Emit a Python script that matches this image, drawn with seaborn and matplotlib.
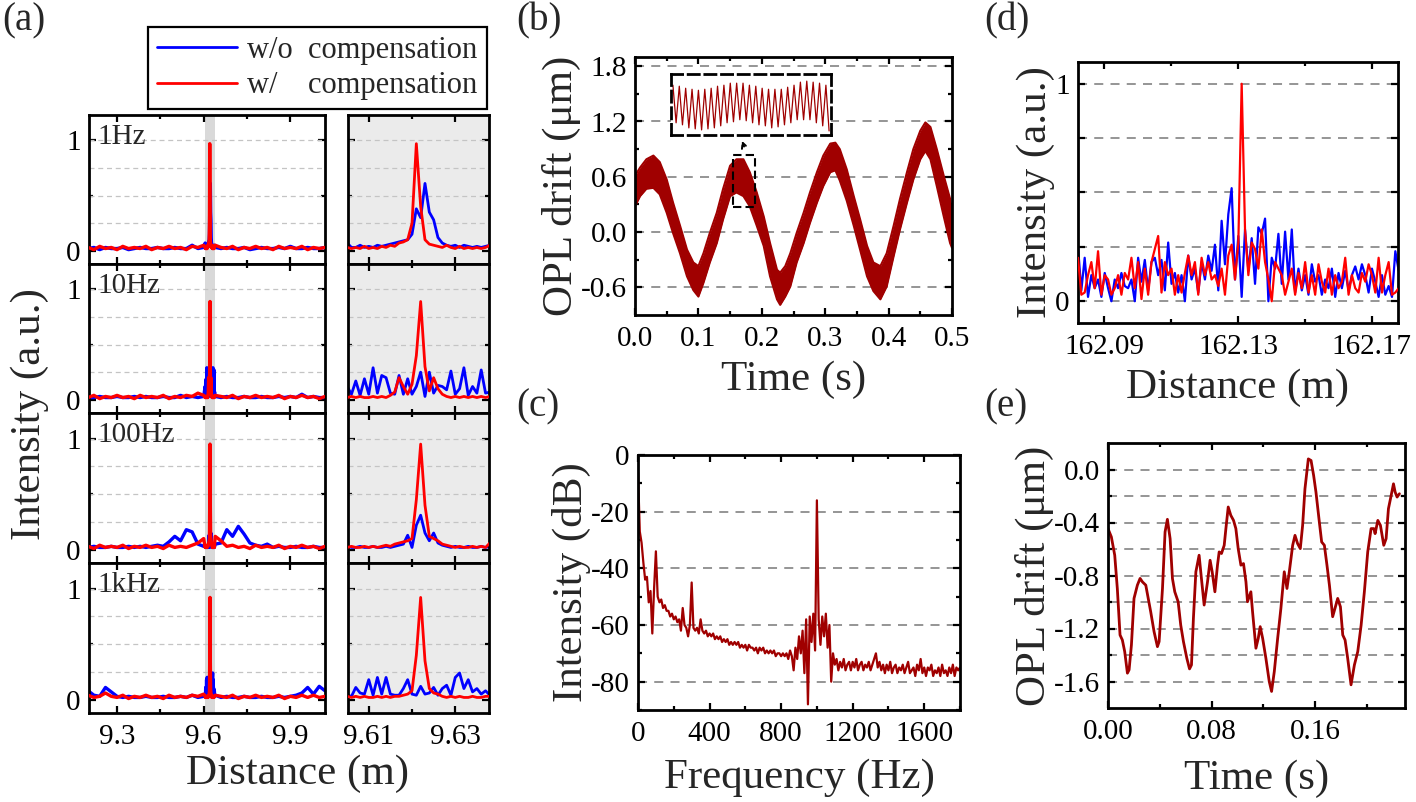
import numpy as np
import matplotlib
matplotlib.use("Agg")
import matplotlib.pyplot as plt
import seaborn as sns
from matplotlib.patches import Rectangle
from matplotlib.lines import Line2D
from matplotlib.ticker import MultipleLocator, FixedLocator, FixedFormatter

sns.set_style("ticks")
plt.rcParams['font.family'] = ['Liberation Serif', 'DejaVu Serif']
plt.rcParams['axes.unicode_minus'] = False

# =============================================================================
# data
# =============================================================================
# (a) reflectometry traces, wide view = coarse left + zoom window + coarse right
a_labels = ['1Hz', '10Hz', '100Hz', '1kHz']
a_x_lo = np.linspace(9.20, 9.60, 21)
a_x_zoom = np.linspace(9.605, 9.638, 34)
a_x_hi = np.linspace(9.64, 10.02, 20)
a_window = (9.6052, 9.6378)

a_red_lo = {
    '1Hz':   [0.03, 0.01, 0.04, 0.02, 0.03, 0.01, 0.04, 0.02, 0.03, 0.02, 0.04, 0.01, 0.03, 0.02, 0.04, 0.02, 0.03, 0.01, 0.04, 0.03, 0.05],
    '10Hz':  [0.02, 0.04, 0.01, 0.03, 0.02, 0.04, 0.02, 0.03, 0.01, 0.04, 0.02, 0.03, 0.02, 0.04, 0.01, 0.03, 0.02, 0.04, 0.03, 0.06, 0.04],
    '100Hz': [0.03, 0.01, 0.04, 0.02, 0.03, 0.02, 0.04, 0.01, 0.03, 0.02, 0.04, 0.02, 0.03, 0.01, 0.04, 0.02, 0.03, 0.02, 0.04, 0.06, 0.10],
    '1kHz':  [0.04, 0.02, 0.03, 0.06, 0.03, 0.02, 0.04, 0.01, 0.03, 0.02, 0.04, 0.02, 0.03, 0.01, 0.04, 0.02, 0.03, 0.02, 0.04, 0.03, 0.05],
}
a_blue_lo = {
    '1Hz':   [0.02, 0.03, 0.01, 0.03, 0.02, 0.02, 0.03, 0.01, 0.02, 0.03, 0.02, 0.02, 0.03, 0.02, 0.02, 0.03, 0.02, 0.02, 0.05, 0.02, 0.03],
    '10Hz':  [0.02, 0.02, 0.03, 0.02, 0.02, 0.03, 0.02, 0.02, 0.03, 0.02, 0.03, 0.02, 0.02, 0.03, 0.02, 0.02, 0.04, 0.02, 0.03, 0.02, 0.03],
    '100Hz': [0.02, 0.03, 0.02, 0.02, 0.03, 0.02, 0.02, 0.03, 0.02, 0.03, 0.02, 0.03, 0.04, 0.03, 0.07, 0.12, 0.08, 0.18, 0.16, 0.05, 0.03],
    '1kHz':  [0.08, 0.04, 0.03, 0.11, 0.07, 0.03, 0.02, 0.03, 0.02, 0.02, 0.03, 0.02, 0.02, 0.03, 0.02, 0.02, 0.03, 0.02, 0.04, 0.02, 0.03],
}
a_red_zoom = {
    '1Hz':   [0.03, 0.02, 0.03, 0.02, 0.04, 0.02, 0.03, 0.02, 0.04, 0.03, 0.05, 0.04, 0.07, 0.08, 0.10, 0.25, 0.97, 0.40, 0.10, 0.06,
              0.05, 0.04, 0.03, 0.05, 0.03, 0.02, 0.04, 0.02, 0.03, 0.02, 0.03, 0.02, 0.03, 0.05],
    '10Hz':  [0.02, 0.03, 0.02, 0.03, 0.02, 0.02, 0.03, 0.02, 0.03, 0.02, 0.04, 0.07, 0.20, 0.12, 0.05, 0.14, 0.40, 0.89, 0.30, 0.08,
              0.20, 0.10, 0.05, 0.03, 0.02, 0.03, 0.02, 0.03, 0.02, 0.03, 0.02, 0.03, 0.02, 0.03],
    '100Hz': [0.02, 0.03, 0.02, 0.02, 0.03, 0.02, 0.03, 0.02, 0.03, 0.04, 0.03, 0.05, 0.06, 0.07, 0.08, 0.10, 0.45, 0.95, 0.40, 0.12,
              0.10, 0.08, 0.05, 0.04, 0.03, 0.02, 0.03, 0.02, 0.02, 0.03, 0.02, 0.03, 0.02, 0.06],
    '1kHz':  [0.03, 0.02, 0.03, 0.02, 0.03, 0.02, 0.02, 0.03, 0.02, 0.03, 0.02, 0.03, 0.03, 0.04, 0.05, 0.08, 0.40, 0.92, 0.35, 0.10,
              0.06, 0.05, 0.03, 0.02, 0.03, 0.02, 0.03, 0.02, 0.02, 0.03, 0.02, 0.02, 0.03, 0.03],
}
a_blue_zoom = {
    '1Hz':   [0.07, 0.03, 0.03, 0.05, 0.03, 0.04, 0.03, 0.05, 0.04, 0.05, 0.06, 0.07, 0.08, 0.09, 0.10, 0.15, 0.38, 0.30, 0.61, 0.35,
              0.28, 0.12, 0.07, 0.05, 0.04, 0.05, 0.03, 0.05, 0.04, 0.03, 0.04, 0.03, 0.04, 0.05],
    '10Hz':  [0.12, 0.05, 0.17, 0.04, 0.19, 0.05, 0.29, 0.06, 0.22, 0.20, 0.06, 0.05, 0.22, 0.05, 0.19, 0.05, 0.12, 0.25, 0.03, 0.25,
              0.06, 0.13, 0.12, 0.09, 0.26, 0.05, 0.10, 0.29, 0.04, 0.12, 0.06, 0.27, 0.06, 0.07],
    '100Hz': [0.03, 0.02, 0.02, 0.03, 0.02, 0.02, 0.03, 0.02, 0.02, 0.03, 0.02, 0.03, 0.04, 0.05, 0.13, 0.02, 0.22, 0.31, 0.15, 0.08,
              0.15, 0.06, 0.04, 0.03, 0.02, 0.03, 0.02, 0.02, 0.03, 0.02, 0.02, 0.03, 0.02, 0.03],
    '1kHz':  [0.04, 0.03, 0.11, 0.06, 0.05, 0.18, 0.04, 0.20, 0.05, 0.20, 0.05, 0.04, 0.04, 0.10, 0.18, 0.05, 0.04, 0.12, 0.05, 0.06,
              0.11, 0.04, 0.10, 0.13, 0.04, 0.20, 0.24, 0.10, 0.18, 0.07, 0.10, 0.05, 0.08, 0.04],
}
a_red_hi = {
    '1Hz':   [0.05, 0.03, 0.02, 0.04, 0.01, 0.03, 0.02, 0.04, 0.02, 0.03, 0.01, 0.04, 0.02, 0.03, 0.02, 0.04, 0.01, 0.03, 0.02, 0.03],
    '10Hz':  [0.04, 0.03, 0.02, 0.04, 0.01, 0.03, 0.02, 0.04, 0.02, 0.03, 0.02, 0.04, 0.01, 0.03, 0.02, 0.04, 0.02, 0.03, 0.01, 0.03],
    '100Hz': [0.12, 0.08, 0.03, 0.04, 0.02, 0.03, 0.01, 0.04, 0.02, 0.03, 0.02, 0.04, 0.01, 0.03, 0.02, 0.04, 0.02, 0.03, 0.01, 0.03],
    '1kHz':  [0.04, 0.03, 0.02, 0.04, 0.01, 0.03, 0.02, 0.04, 0.02, 0.03, 0.02, 0.04, 0.01, 0.03, 0.02, 0.04, 0.02, 0.04, 0.02, 0.03],
}
a_blue_hi = {
    '1Hz':   [0.03, 0.02, 0.03, 0.02, 0.02, 0.03, 0.01, 0.02, 0.03, 0.02, 0.02, 0.03, 0.02, 0.04, 0.02, 0.02, 0.03, 0.02, 0.02, 0.03],
    '10Hz':  [0.03, 0.02, 0.03, 0.02, 0.02, 0.03, 0.02, 0.02, 0.03, 0.02, 0.02, 0.03, 0.02, 0.03, 0.02, 0.05, 0.02, 0.03, 0.02, 0.02],
    '100Hz': [0.05, 0.06, 0.18, 0.12, 0.21, 0.14, 0.06, 0.04, 0.03, 0.05, 0.02, 0.03, 0.02, 0.02, 0.03, 0.02, 0.02, 0.03, 0.02, 0.02],
    '1kHz':  [0.04, 0.02, 0.03, 0.02, 0.02, 0.03, 0.02, 0.02, 0.03, 0.02, 0.02, 0.03, 0.02, 0.03, 0.04, 0.06, 0.11, 0.05, 0.12, 0.08],
}

# (b) OPL drift band: upper / lower envelope of the thick trace
b_time = [0.000, 0.008, 0.018, 0.029, 0.039, 0.050, 0.060, 0.071, 0.082, 0.092, 0.100, 0.108, 0.118, 0.129, 0.139, 0.150,
          0.160, 0.171, 0.181, 0.192, 0.203, 0.213, 0.224, 0.229, 0.237, 0.245, 0.255, 0.266, 0.276, 0.287, 0.297, 0.308,
          0.316, 0.323, 0.334, 0.345, 0.355, 0.366, 0.376, 0.387, 0.397, 0.408, 0.418, 0.429, 0.439, 0.450, 0.458, 0.466,
          0.476, 0.487, 0.497, 0.500]
b_upper = [0.61, 0.70, 0.79, 0.83, 0.76, 0.57, 0.32, 0.07, -0.19, -0.33, -0.37, -0.23, -0.01, 0.21, 0.47, 0.72,
           0.79, 0.79, 0.65, 0.43, 0.17, -0.12, -0.41, -0.44, -0.37, -0.23, -0.01, 0.21, 0.43, 0.65, 0.83, 0.96,
           0.97, 0.90, 0.68, 0.39, 0.14, -0.15, -0.33, -0.37, -0.23, 0.07, 0.36, 0.65, 0.90, 1.10, 1.19, 1.14,
           0.90, 0.61, 0.36, 0.21]
b_lower = [0.28, 0.39, 0.47, 0.48, 0.41, 0.21, -0.01, -0.23, -0.48, -0.63, -0.70, -0.55, -0.33, -0.12, 0.14, 0.39,
           0.43, 0.39, 0.28, 0.07, -0.15, -0.48, -0.73, -0.79, -0.70, -0.59, -0.33, -0.12, 0.10, 0.32, 0.50, 0.65,
           0.67, 0.56, 0.34, 0.07, -0.19, -0.48, -0.64, -0.73, -0.59, -0.26, 0.03, 0.32, 0.57, 0.79, 0.88, 0.79,
           0.50, 0.17, -0.12, -0.17]
b_window_t = (0.155, 0.189)
b_window_y = (0.27, 0.84)
# inset: successive crests and troughs of the fast vibration
inset_peaks = [0.76, 0.75, 0.73, 0.72, 0.71, 0.72, 0.73, 0.75, 0.76, 0.78, 0.78, 0.78, 0.76,
               0.75, 0.73, 0.72, 0.72, 0.72, 0.74, 0.76, 0.79, 0.80, 0.79, 0.78, 0.76]
inset_troughs = [0.39, 0.37, 0.34, 0.33, 0.32, 0.33, 0.34, 0.36, 0.39, 0.40, 0.42, 0.41, 0.39,
                 0.37, 0.36, 0.34, 0.35, 0.37, 0.39, 0.42, 0.42, 0.42, 0.39, 0.36, 0.31]

# (c) spectrum, 10 Hz bins from 0 to 1800 Hz
c_freq = np.linspace(0, 1800, 181)
c_db = [-6, -27, -31, -38, -44, -43, -52, -48, -63, -47,
        -34, -50, -52, -51, -54, -53, -55, -55, -57, -56,
        -58, -57, -59, -58, -62, -54, -60, -61, -64, -60,
        -45, -61, -62, -61, -63, -58, -62, -63, -62, -64,
        -63, -64, -63, -65, -64, -65, -64, -66, -65, -66,
        -65, -67, -66, -67, -66, -67, -66, -68, -67, -68,
        -67, -69, -67, -68, -68, -69, -68, -70, -68, -69,
        -68, -70, -69, -70, -69, -70, -69, -71, -70, -70,
        -71, -70, -71, -70, -72, -69, -71, -76, -68, -72,
        -64, -70, -62, -77, -58, -88, -57, -66, -56, -69,
        -16, -58, -67, -57, -64, -56, -68, -60, -80, -70,
        -74, -72, -76, -73, -75, -72, -76, -74, -73, -76,
        -73, -75, -72, -76, -74, -73, -76, -74, -75, -73,
        -76, -74, -72, -70, -75, -73, -76, -74, -77, -74,
        -76, -73, -77, -75, -74, -77, -75, -76, -74, -77,
        -75, -73, -77, -76, -75, -78, -74, -76, -72, -77,
        -75, -78, -75, -76, -74, -78, -76, -77, -75, -78,
        -74, -77, -76, -78, -75, -77, -74, -78, -75, -76,
        -75]

# (d) 162 m reflection, 1 mm bins
d_dist = np.linspace(162.0822, 162.178, 97)
d_red = [0.20, 0.03, 0.04, 0.12, 0.18, 0.06, 0.23, 0.03, 0.12, 0.10,
         0.03, 0.06, 0.12, 0.03, 0.13, 0.10, 0.20, 0.06, 0.18, 0.01,
         0.15, 0.03, 0.18, 0.24, 0.30, 0.04, 0.18, 0.12, 0.15, 0.03,
         0.12, 0.04, 0.13, 0.21, 0.12, 0.18, 0.03, 0.20, 0.12, 0.18,
         0.10, 0.12, 0.07, 0.15, 0.03, 0.21, 0.26, 0.10, 0.27, 1.00,
         0.33, 0.12, 0.27, 0.24, 0.15, 0.33, 0.18, 0.10, 0.00, 0.18,
         0.15, 0.12, 0.03, 0.09, 0.15, 0.03, 0.13, 0.06, 0.18, 0.04,
         0.12, 0.03, 0.17, 0.09, 0.04, 0.15, 0.03, 0.12, 0.06, 0.09,
         0.20, 0.03, 0.12, 0.06, 0.04, 0.13, 0.09, 0.17, 0.12, 0.04,
         0.20, 0.04, 0.12, 0.18, 0.03, 0.04, 0.06]
d_blue = [0.25, 0.05, 0.20, 0.02, 0.12, 0.06, 0.10, 0.02, 0.13, 0.06,
          0.00, 0.10, 0.06, 0.13, 0.07, 0.06, 0.10, 0.00, 0.20, 0.09,
          0.19, 0.05, 0.18, 0.20, 0.12, 0.19, 0.05, 0.27, 0.08, 0.13,
          0.04, 0.12, 0.00, 0.21, 0.10, 0.15, 0.04, 0.18, 0.10, 0.21,
          0.14, 0.26, 0.05, 0.37, 0.17, 0.40, 0.52, 0.10, 0.30, 0.02,
          0.33, 0.14, 0.29, 0.08, 0.34, 0.31, 0.38, 0.00, 0.20, 0.15,
          0.31, 0.08, 0.32, 0.10, 0.33, 0.04, 0.15, 0.05, 0.12, 0.03,
          0.17, 0.09, 0.12, 0.03, 0.10, 0.06, 0.15, 0.02, 0.13, 0.06,
          0.14, 0.05, 0.12, 0.16, 0.10, 0.17, 0.12, 0.04, 0.15, 0.09,
          0.02, 0.12, 0.03, 0.07, 0.02, 0.23, 0.14]

# (e) OPL drift over 0.23 s
e_time = [0.000, 0.0026, 0.0052, 0.0072, 0.0093, 0.0111, 0.0129, 0.0150, 0.0163, 0.0181,
          0.0201, 0.0227, 0.0248, 0.0266, 0.0292, 0.0330, 0.0356, 0.0382, 0.0395, 0.0421,
          0.0441, 0.0459, 0.0480, 0.0498, 0.0516, 0.0542, 0.0562, 0.0583, 0.0609, 0.0630,
          0.0645, 0.0660, 0.0679, 0.0704, 0.0722, 0.0743, 0.0769, 0.0789, 0.0805, 0.0826,
          0.0846, 0.0859, 0.0877, 0.0898, 0.0911, 0.0929, 0.0949, 0.0970, 0.0988, 0.1006,
          0.1027, 0.1047, 0.1066, 0.1078, 0.1104, 0.1117, 0.1143, 0.1161, 0.1176, 0.1195,
          0.1220, 0.1246, 0.1264, 0.1285, 0.1311, 0.1336, 0.1362, 0.1383, 0.1401, 0.1427,
          0.1445, 0.1465, 0.1486, 0.1504, 0.1522, 0.1548, 0.1569, 0.1589, 0.1607, 0.1633,
          0.1651, 0.1672, 0.1692, 0.1711, 0.1736, 0.1754, 0.1775, 0.1796, 0.1814, 0.1832,
          0.1852, 0.1878, 0.1904, 0.1930, 0.1956, 0.1981, 0.2007, 0.2033, 0.2054, 0.2064,
          0.2085, 0.2105, 0.2131, 0.2149, 0.2167, 0.2188, 0.2206, 0.2219, 0.2234, 0.2252]
e_drift = [-0.446, -0.509, -0.647, -0.898, -1.249, -1.287, -1.374, -1.537, -1.512, -1.324,
           -0.973, -0.873, -0.822, -0.848, -0.873, -1.074, -1.224, -1.337, -1.299, -0.898,
           -0.471, -0.376, -0.522, -0.823, -0.923, -0.998, -1.174, -1.299, -1.424, -1.505,
           -1.475, -1.123, -0.772, -0.647, -0.823, -1.023, -0.848, -0.685, -0.772, -0.923,
           -0.722, -0.622, -0.634, -0.572, -0.446, -0.283, -0.346, -0.384, -0.446, -0.597,
           -0.722, -0.710, -0.848, -0.998, -0.923, -1.073, -1.349, -1.274, -1.186, -1.274,
           -1.424, -1.600, -1.675, -1.525, -1.274, -1.048, -0.772, -0.898, -0.772, -0.572,
           -0.497, -0.559, -0.597, -0.421, -0.145, 0.080, 0.068, -0.045, -0.171, -0.396,
           -0.547, -0.572, -0.722, -0.873, -1.111, -1.048, -0.973, -1.036, -1.249, -1.287,
           -1.424, -1.625, -1.475, -1.374, -1.174, -0.923, -0.622, -0.446, -0.446, -0.484,
           -0.384, -0.421, -0.572, -0.522, -0.296, -0.196, -0.108, -0.171, -0.208, -0.183]

# =============================================================================
# layout helpers
# =============================================================================
W, H = 1416, 802
DARKRED = '#A00000'
TICK_FS = 21
LABEL_FS = 31
fig = plt.figure(figsize=(W / 100, H / 100), dpi=100)


def px_axes(x0, y0, x1, y1):
    return fig.add_axes([x0 / W, 1 - y1 / H, (x1 - x0) / W, (y1 - y0) / H])


def origin_style(ax):
    for s in ax.spines.values():
        s.set_linewidth(2.0)
        s.set_color('k')
    ax.tick_params(which='both', direction='in', top=True, right=True, width=1.6,
                   labelsize=TICK_FS, colors='k')
    ax.tick_params(axis='x', which='both', pad=8)
    ax.tick_params(axis='y', which='both', pad=6)
    ax.tick_params(which='major', length=5)
    ax.tick_params(which='minor', length=3)


GRID = dict(color='#8C8C8C', ls=(0, (5, 4)), lw=1.3)

# =============================================================================
# (a)
# =============================================================================
row_edges = [115, 264, 413, 563, 713]
a_x_full = np.concatenate([a_x_lo, a_x_zoom, a_x_hi])
for i, lab in enumerate(a_labels):
    axL = px_axes(89, row_edges[i], 325, row_edges[i + 1])
    axR = px_axes(348, row_edges[i], 489, row_edges[i + 1])
    blue_full = np.concatenate([a_blue_lo[lab], a_blue_zoom[lab], a_blue_hi[lab]])
    red_full = np.concatenate([a_red_lo[lab], a_red_zoom[lab], a_red_hi[lab]])

    axL.axvspan(*a_window, color='#D9D9D9', lw=0, zorder=0)
    axR.set_facecolor('#EBEBEB')
    for ax in (axL, axR):
        for g in [0.25, 0.5, 0.75, 1.0]:
            ax.axhline(g, color='#C4C4C4', ls=(0, (4, 3)), lw=0.9, zorder=1)
        ax.set_ylim(-0.12, 1.23)
        ax.yaxis.set_major_locator(FixedLocator([0, 1]))
        ax.yaxis.set_minor_locator(FixedLocator([0.5]))
        origin_style(ax)

    sns.lineplot(x=a_x_full, y=blue_full, ax=axL, color='blue', lw=2.4, zorder=2)
    sns.lineplot(x=a_x_full, y=red_full, ax=axL, color='red', lw=2.4, zorder=3)
    sns.lineplot(x=a_x_zoom, y=a_blue_zoom[lab], ax=axR, color='blue', lw=2.0, zorder=2)
    sns.lineplot(x=a_x_zoom, y=a_red_zoom[lab], ax=axR, color='red', lw=2.0, zorder=3)

    axL.set_xlim(9.203, 10.02)
    axL.xaxis.set_major_locator(FixedLocator([9.3, 9.6, 9.9]))
    axL.xaxis.set_minor_locator(FixedLocator([9.45, 9.75]))
    axL.yaxis.set_major_formatter(FixedFormatter(['0', '1']))
    axR.set_xlim(*a_window)
    axR.xaxis.set_major_locator(FixedLocator([9.61, 9.63]))
    axR.xaxis.set_minor_locator(FixedLocator([9.62]))
    axR.set_yticklabels([])
    if i < 3:
        axL.set_xticklabels([])
        axR.set_xticklabels([])
    else:
        axL.set_xticklabels(['9.3', '9.6', '9.9'])
        axR.set_xticklabels(['9.61', '9.63'])
    axL.text(0.035, 0.94, lab, transform=axL.transAxes, ha='left', va='top', fontsize=21)
    for ax in (axL, axR):
        ax.set_xlabel('')
        ax.set_ylabel('')

fig.text(30 / W, 1 - 414 / H, 'Intensity (a.u.)', rotation=90, ha='center', va='center', fontsize=LABEL_FS)
fig.text(298 / W, 1 - 774 / H, 'Distance (m)', ha='center', va='center', fontsize=LABEL_FS)

handles = [Line2D([], [], color='blue', lw=2), Line2D([], [], color='red', lw=2)]
leg = fig.legend(handles, ['w/o  compensation', 'w/    compensation'], loc='upper left',
                 bbox_to_anchor=(148 / W, 1 - 27 / H), bbox_transform=fig.transFigure,
                 fontsize=22, frameon=True, fancybox=False, edgecolor='k', framealpha=1,
                 borderpad=0.3, labelspacing=0.2, handlelength=2.6, handletextpad=0.35,
                 borderaxespad=0)
leg.get_frame().set_linewidth(1.6)

# =============================================================================
# (b)
# =============================================================================
axb = px_axes(635, 57, 952, 315)
axb.fill_between(b_time, b_lower, b_upper, color=DARKRED, lw=0, zorder=2)
sns.lineplot(x=b_time, y=b_upper, ax=axb, color=DARKRED, lw=1.5, zorder=2)
sns.lineplot(x=b_time, y=b_lower, ax=axb, color=DARKRED, lw=1.5, zorder=2)
axb.set_xlim(0, 0.5)
axb.set_ylim(-0.9, 1.9)
axb.xaxis.set_major_locator(FixedLocator([0.0, 0.1, 0.2, 0.3, 0.4, 0.5]))
axb.xaxis.set_major_formatter(FixedFormatter(['0.0', '0.1', '0.2', '0.3', '0.4', '0.5']))
axb.xaxis.set_minor_locator(FixedLocator([0.05, 0.15, 0.25, 0.35, 0.45]))
axb.yaxis.set_major_locator(FixedLocator([-0.6, 0.0, 0.6, 1.2, 1.8]))
axb.yaxis.set_major_formatter(FixedFormatter(['-0.6', '0.0', '0.6', '1.2', '1.8']))
axb.yaxis.set_minor_locator(FixedLocator([-0.3, 0.3, 0.9, 1.5]))
axb.grid(axis='y', which='major', **GRID)
axb.set_axisbelow(True)
origin_style(axb)
axb.set_xlabel('Time (s)', fontsize=LABEL_FS, labelpad=6)
axb.set_ylabel('OPL drift (μm)', fontsize=LABEL_FS, labelpad=0)
axb.add_patch(Rectangle((b_window_t[0], b_window_y[0]), b_window_t[1] - b_window_t[0],
                        b_window_y[1] - b_window_y[0], fill=False, ec='k', lw=1.5,
                        ls=(0, (4, 2)), zorder=4))
axb.annotate('', xy=(0.167, 1.02), xytext=(0.1735, 0.90),
             arrowprops=dict(arrowstyle='->', color='k', lw=1.4, ls=(0, (2, 1.5))), zorder=4)

ax_in = px_axes(671, 74, 831, 135)
inset_vals = []
for p, t in zip(inset_peaks, inset_troughs):
    inset_vals += [p, t]
sns.lineplot(x=np.arange(len(inset_vals)), y=inset_vals, ax=ax_in, color=DARKRED, lw=0.9)
ax_in.set_xlim(-0.6, len(inset_vals) - 0.4)
ax_in.set_ylim(0.27, 0.87)
ax_in.set_xticks([])
ax_in.set_yticks([])
ax_in.set_xlabel('')
ax_in.set_ylabel('')
for s in ax_in.spines.values():
    s.set_linestyle((0, (4, 2)))
    s.set_linewidth(2.0)
    s.set_color('k')

# =============================================================================
# (c)
# =============================================================================
axc = px_axes(638, 455, 960, 710)
sns.lineplot(x=c_freq, y=c_db, ax=axc, color=DARKRED, lw=1.6, zorder=2)
axc.set_xlim(0, 1800)
axc.set_ylim(-90, 0)
axc.xaxis.set_major_locator(MultipleLocator(400))
axc.xaxis.set_minor_locator(MultipleLocator(200))
axc.yaxis.set_major_locator(MultipleLocator(20))
axc.yaxis.set_minor_locator(MultipleLocator(10))
axc.grid(axis='y', which='major', **GRID)
axc.set_axisbelow(True)
origin_style(axc)
axc.set_xlabel('Frequency (Hz)', fontsize=LABEL_FS, labelpad=8)
axc.set_ylabel('Intensity (dB)', fontsize=LABEL_FS, labelpad=0)

# =============================================================================
# (d)
# =============================================================================
axd = px_axes(1078, 62, 1398, 323)
sns.lineplot(x=d_dist, y=d_blue, ax=axd, color='blue', lw=1.6, zorder=2)
sns.lineplot(x=d_dist, y=d_red, ax=axd, color='red', lw=1.6, zorder=3)
axd.set_xlim(162.0822, 162.1778)
axd.set_ylim(-0.1, 1.1)
axd.xaxis.set_major_locator(FixedLocator([162.09, 162.13, 162.17]))
axd.xaxis.set_minor_locator(FixedLocator([162.11, 162.15]))
axd.xaxis.set_major_formatter(FixedFormatter(['162.09', '162.13', '162.17']))
axd.yaxis.set_major_locator(FixedLocator([0, 0.25, 0.5, 0.75, 1]))
axd.yaxis.set_major_formatter(FixedFormatter(['0', '', '', '', '1']))
axd.grid(axis='y', which='major', **GRID)
axd.set_axisbelow(True)
origin_style(axd)
axd.set_xlabel('Distance (m)', fontsize=LABEL_FS, labelpad=6)
axd.set_ylabel('Intensity (a.u.)', fontsize=LABEL_FS, labelpad=0)

# =============================================================================
# (e)
# =============================================================================
axe = px_axes(1108, 443, 1405, 708)
sns.lineplot(x=e_time, y=e_drift, ax=axe, color=DARKRED, lw=2.0, zorder=2)
axe.set_xlim(0, 0.2295)
axe.set_ylim(-1.8, 0.2)
axe.xaxis.set_major_locator(FixedLocator([0.0, 0.08, 0.16]))
axe.xaxis.set_minor_locator(FixedLocator([0.04, 0.12, 0.20]))
axe.xaxis.set_major_formatter(FixedFormatter(['0.00', '0.08', '0.16']))
axe.yaxis.set_major_locator(FixedLocator([-1.6, -1.2, -0.8, -0.4, 0.0]))
axe.yaxis.set_major_formatter(FixedFormatter(['-1.6', '-1.2', '-0.8', '-0.4', '0.0']))
axe.yaxis.set_minor_locator(FixedLocator([-1.4, -1.0, -0.6, -0.2]))
axe.grid(axis='y', which='both', **GRID)
axe.set_axisbelow(True)
origin_style(axe)
axe.set_xlabel('Time (s)', fontsize=LABEL_FS, labelpad=10)
axe.set_ylabel('OPL drift (μm)', fontsize=LABEL_FS, labelpad=0)

# panel letters
for letter, (px, py) in {'(a)': (2, 2), '(b)': (516, 2), '(c)': (516, 388),
                         '(d)': (984, 2), '(e)': (984, 388)}.items():
    fig.text(px / W, 1 - py / H, letter, ha='left', va='top', fontsize=28)

fig.savefig('out.png', dpi=100)
